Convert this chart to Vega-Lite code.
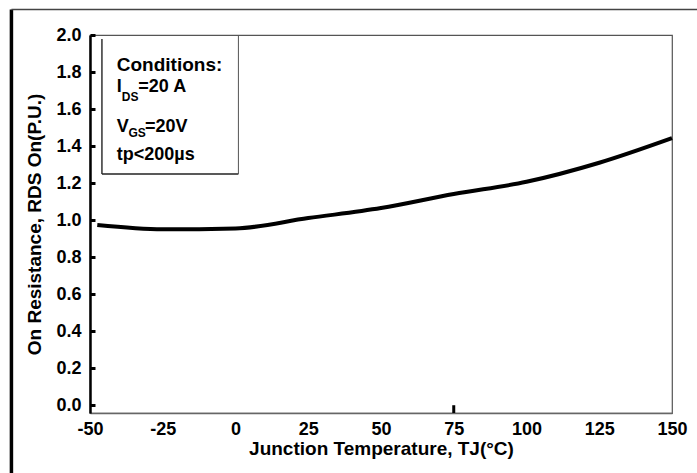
{
  "$schema": "https://vega.github.io/schema/vega-lite/v6.json",
  "width": 582,
  "height": 378,
  "autosize": {"type": "none"},
  "padding": {"left": 90, "top": 35, "right": 25, "bottom": 60},
  "background": "white",
  "config": {
    "view": {"stroke": "#555555", "strokeWidth": 1.2},
    "font": "Liberation Sans",
    "axis": {"labelOverlap": false, "labelFont": "Liberation Sans", "labelFontWeight": "bold", "labelFontSize": 18, "labelColor": "black", "titleFont": "Liberation Sans", "titleFontSize": 19, "titleFontWeight": "bold", "titleColor": "black", "grid": false},
    "text": {"font": "Liberation Sans", "fontWeight": "bold", "fontSize": 18, "color": "black", "align": "left", "baseline": "alphabetic"}
  },
  "datasets": {
    "curve": [
      {"temp": -47.5, "r": 0.973},
      {"temp": -25, "r": 0.950},
      {"temp": 0, "r": 0.955},
      {"temp": 25, "r": 1.011},
      {"temp": 50, "r": 1.065},
      {"temp": 75, "r": 1.141},
      {"temp": 100, "r": 1.207},
      {"temp": 125, "r": 1.310},
      {"temp": 150, "r": 1.443}
    ],
    "one": [{}]
  },
  "layer": [
    {
      "data": {"name": "curve"},
      "mark": {"type": "line", "color": "black", "strokeWidth": 4, "interpolate": "monotone", "strokeCap": "butt"},
      "encoding": {
        "x": {
          "field": "temp", "type": "quantitative",
          "scale": {"domain": [-50, 150], "nice": false, "zero": false},
          "axis": {
            "values": [-50, -25, 0, 25, 50, 75, 100, 125, 150],
            "tickCount": 20,
            "labelExpr": "replace(datum.label, '\u2212', '-')",
            "ticks": false,
            "domainColor": "#666666", "domainWidth": 1.5,
            "labelPadding": 7, "labelFlush": false,
            "title": "Junction Temperature, TJ(°C)",
            "titlePadding": 1
          }
        },
        "y": {
          "field": "r", "type": "quantitative",
          "scale": {"domain": [-0.042, 2.0], "nice": false, "zero": false},
          "axis": {
            "values": [0, 0.2, 0.4, 0.6, 0.8, 1.0, 1.2, 1.4, 1.6, 1.8, 2.0],
            "tickCount": 20,
            "format": ".1f",
            "domainColor": "black", "domainWidth": 2.5,
            "tickColor": "black", "tickWidth": 3, "tickSize": -5,
            "labelPadding": 14,
            "title": "On Resistance, RDS On(P.U.)",
            "titlePadding": 11
          }
        }
      }
    },
    {
      "data": {"name": "one"},
      "mark": {"type": "rule", "color": "black", "strokeWidth": 3},
      "encoding": {"x": {"datum": 75}, "y": {"datum": -0.042}, "y2": {"datum": 0}}
    },
    {
      "data": {"name": "one"},
      "mark": {"type": "rule", "color": "black", "strokeWidth": 3.5},
      "encoding": {"x": {"datum": -77}, "y": {"datum": 2.138}, "y2": {"datum": -0.4}}
    },
    {
      "data": {"name": "one"},
      "mark": {"type": "rule", "color": "#444444", "strokeWidth": 1.5},
      "encoding": {"y": {"datum": 2.138}, "x": {"datum": -77}, "x2": {"datum": 160}}
    },
    {
      "data": {"name": "one"},
      "mark": {"type": "rule", "color": "#333333", "strokeWidth": 1.5},
      "encoding": {"x": {"datum": -45.9}, "y": {"datum": 1.978}, "y2": {"datum": 1.249}}
    },
    {
      "data": {"name": "one"},
      "mark": {"type": "rule", "color": "#222222", "strokeWidth": 1.5},
      "encoding": {"y": {"datum": 1.249}, "x": {"datum": -45.9}, "x2": {"datum": 1.0}}
    },
    {
      "data": {"name": "one"},
      "mark": {"type": "rule", "color": "#555555", "strokeWidth": 1},
      "encoding": {"x": {"datum": 1.0}, "y": {"datum": 2.0}, "y2": {"datum": 1.249}}
    },
    {
      "data": {"name": "one"},
      "mark": {"type": "text", "text": "Conditions:", "fontSize": 19},
      "encoding": {"x": {"datum": -40.8}, "y": {"datum": 1.804}}
    },
    {
      "data": {"name": "one"},
      "mark": {"type": "text", "text": "I"},
      "encoding": {"x": {"datum": -40.8}, "y": {"datum": 1.690}}
    },
    {
      "data": {"name": "one"},
      "mark": {"type": "text", "text": "DS", "fontSize": 12},
      "encoding": {"x": {"datum": -39.1}, "y": {"datum": 1.642}}
    },
    {
      "data": {"name": "one"},
      "mark": {"type": "text", "text": "=20 A"},
      "encoding": {"x": {"datum": -33.4}, "y": {"datum": 1.690}}
    },
    {
      "data": {"name": "one"},
      "mark": {"type": "text", "text": "V"},
      "encoding": {"x": {"datum": -40.8}, "y": {"datum": 1.474}}
    },
    {
      "data": {"name": "one"},
      "mark": {"type": "text", "text": "GS", "fontSize": 12},
      "encoding": {"x": {"datum": -36.8}, "y": {"datum": 1.449}}
    },
    {
      "data": {"name": "one"},
      "mark": {"type": "text", "text": "=20V"},
      "encoding": {"x": {"datum": -31.1}, "y": {"datum": 1.474}}
    },
    {
      "data": {"name": "one"},
      "mark": {"type": "text", "text": "tp<200µs"},
      "encoding": {"x": {"datum": -40.8}, "y": {"datum": 1.326}}
    }
  ]
}
